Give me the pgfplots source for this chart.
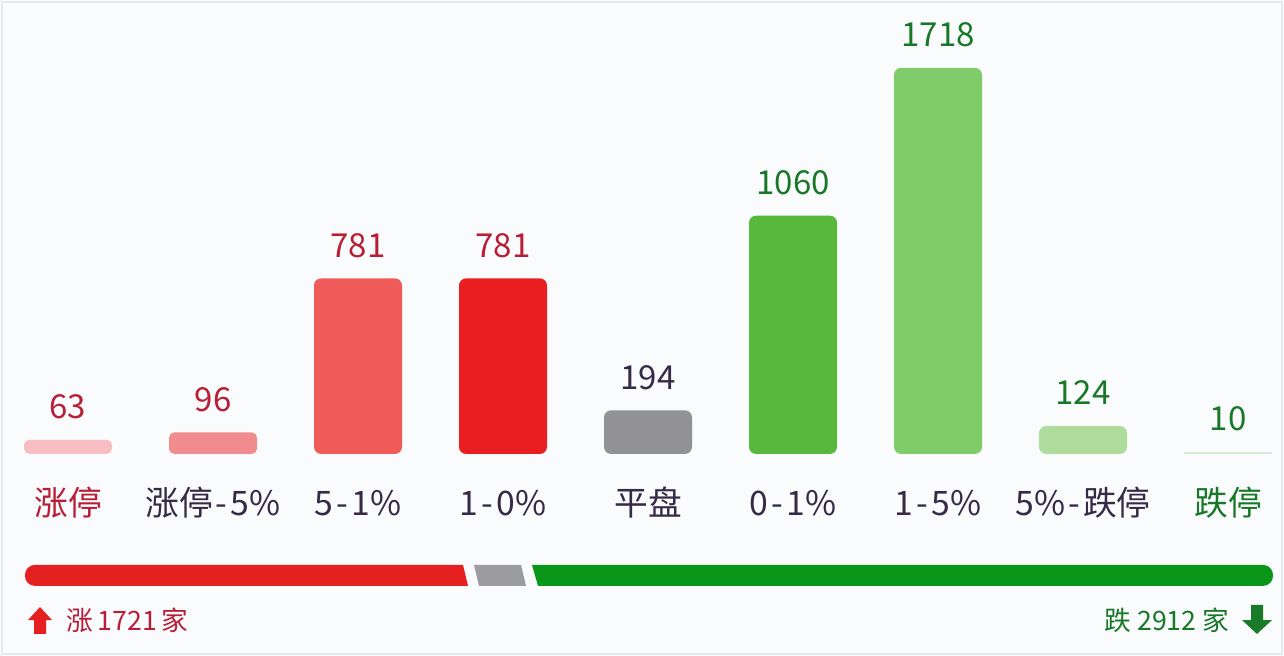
\documentclass[border=0pt]{standalone}
\usepackage{fontspec}
\setmainfont{Noto Sans CJK SC}
\usepackage{pgfplots}
\pgfplotsset{compat=1.18}

\definecolor{bgc}{RGB}{250,251,253}
\definecolor{frame}{RGB}{232,234,238}
\definecolor{cA}{RGB}{248,190,196}
\definecolor{cB}{RGB}{240,140,142}
\definecolor{cC}{RGB}{240,90,88}
\definecolor{cD}{RGB}{232,30,32}
\definecolor{cE}{RGB}{145,145,150}
\definecolor{cF}{RGB}{88,184,60}
\definecolor{cG}{RGB}{128,204,106}
\definecolor{cH}{RGB}{174,220,156}
\definecolor{cI}{RGB}{214,232,214}
\definecolor{txtRed}{RGB}{185,30,55}
\definecolor{txtGreen}{RGB}{25,120,40}
\definecolor{txtDark}{RGB}{55,42,70}
\definecolor{barRed}{RGB}{228,32,32}
\definecolor{barGray}{RGB}{155,155,160}
\definecolor{barGreen}{RGB}{10,150,25}

\newcommand{\dash}{\kern0.9pt-\kern0.9pt}

\begin{document}
\begin{tikzpicture}
% background card
\fill[bgc] (0,0) rectangle (12.84cm,6.56cm);
\draw[frame, line width=0.4pt] (0.02cm,0.02cm) rectangle (12.82cm,6.54cm);
\begin{axis}[
  at={(0,0)}, anchor=south west,
  width=12.84cm, height=6.56cm,
  scale only axis,
  hide axis,
  clip=false,
  % x in pixels of the card, y in number of stocks (baseline 0)
  xmin=0, xmax=1284,
  ymin=-899, ymax=2020,
  ybar, bar shift=0pt, bar width=88,
  nodes near coords={\pgfmathprintnumber[assume math mode=true,1000 sep={}]{\pgfplotspointmeta}},
  every node near coord/.append style={anchor=base, yshift=6pt,
    font=\fontsize{9.4}{11}\selectfont},
]

% === Bars ===
\addplot[fill=cA, draw=none, rounded corners=1.5pt, nodes near coords style={text=txtRed}] coordinates {(68,63)};
\addplot[fill=cB, draw=none, rounded corners=1.5pt, nodes near coords style={text=txtRed}] coordinates {(213,96)};
\addplot[fill=cC, draw=none, rounded corners=2pt, nodes near coords style={text=txtRed}] coordinates {(358,781)};
\addplot[fill=cD, draw=none, rounded corners=2pt, nodes near coords style={text=txtRed}] coordinates {(503,781)};
\addplot[fill=cE, draw=none, rounded corners=2pt, nodes near coords style={text=txtDark}] coordinates {(648,194)};
\addplot[fill=cF, draw=none, rounded corners=2pt, nodes near coords style={text=txtGreen}] coordinates {(793,1060)};
\addplot[fill=cG, draw=none, rounded corners=2pt, nodes near coords style={text=txtGreen}] coordinates {(938,1718)};
\addplot[fill=cH, draw=none, rounded corners=2pt, nodes near coords style={text=txtGreen}] coordinates {(1083,124)};
\addplot[fill=cI, draw=none, nodes near coords style={text=txtGreen}] coordinates {(1228,10)};

% === Category labels ===
\begin{scope}[every node/.style={font=\fontsize{9.6}{11}\selectfont, anchor=center}]
\node[text=txtRed]   at (axis cs:68,-218)   {涨停};
\node[text=txtDark]  at (axis cs:213,-218)  {涨停\dash 5\%};
\node[text=txtDark]  at (axis cs:358,-218)  {5\dash 1\%};
\node[text=txtDark]  at (axis cs:503,-218)  {1\dash 0\%};
\node[text=txtDark]  at (axis cs:648,-218)  {平盘};
\node[text=txtDark]  at (axis cs:793,-218)  {0\dash 1\%};
\node[text=txtDark]  at (axis cs:938,-218)  {1\dash 5\%};
\node[text=txtDark]  at (axis cs:1083,-218) {5\%\dash 跌停};
\node[text=txtGreen] at (axis cs:1228,-218) {跌停};
\end{scope}

% === Breadth bar: up 1721, flat 194, down 2912 ===
\fill[barRed] (axis cs:463,-494) -- (axis cs:40,-494)
  [rounded corners=2.8pt] -- (axis cs:25,-494) -- (axis cs:25,-587)
  [sharp corners] -- (axis cs:40,-587) -- (axis cs:468,-587) -- cycle;
\fill[barGray] (axis cs:474,-494) -- (axis cs:521,-494) -- (axis cs:526,-587) -- (axis cs:479,-587) -- cycle;
\fill[barGreen] (axis cs:532,-494) -- (axis cs:1258,-494)
  [rounded corners=2.8pt] -- (axis cs:1273,-494) -- (axis cs:1273,-587)
  [sharp corners] -- (axis cs:1258,-587) -- (axis cs:538,-587) -- cycle;

% === Totals ===
\fill[barRed] (axis cs:40,-681) -- (axis cs:52,-739) -- (axis cs:46,-739) -- (axis cs:46,-801)
  -- (axis cs:34,-801) -- (axis cs:34,-739) -- (axis cs:28,-739) -- cycle;
\node[anchor=west, text=txtRed, font=\fontsize{7.6}{9}\selectfont, inner sep=0pt]
  at (axis cs:66,-739) {涨\,1721\,家};
\fill[txtGreen!90!barGreen] (axis cs:1257,-801) -- (axis cs:1272,-739) -- (axis cs:1263,-739) -- (axis cs:1263,-672)
  -- (axis cs:1251,-672) -- (axis cs:1251,-739) -- (axis cs:1242,-739) -- cycle;
\node[anchor=east, text=txtGreen, font=\fontsize{7.6}{9}\selectfont, inner sep=0pt]
  at (axis cs:1230,-739) {跌 2912 家};

\end{axis}
\end{tikzpicture}
\end{document}
